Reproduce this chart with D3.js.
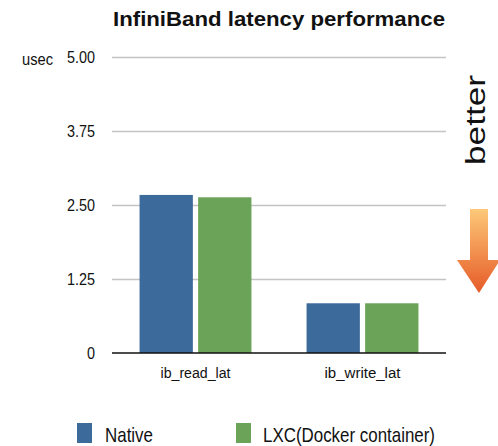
<!DOCTYPE html>
<html><head><meta charset="utf-8">
<script src="https://cdn.jsdelivr.net/npm/d3@7"></script>
<style>
body{margin:0;background:#fff;}
text{font-family:"Liberation Sans",Arial,Helvetica,sans-serif;fill:#111;}
</style></head>
<body><svg id="c" width="498" height="446"></svg>
<script>
const categories = ["ib_read_lat","ib_write_lat"];
const seriesNames = ["Native","LXC(Docker container)"];
const nativeValues = [2.67, 0.84];
const lxcValues = [2.63, 0.84];
const yTicks = [0, 1.25, 2.5, 3.75, 5];
const colors = ["#3b6a9b", "#6ba359"];

const svg = d3.select("#c");
const L = 112, R = 446, T = 57, B = 353;

const x = d3.scaleBand().domain(categories).range([L, R]).paddingInner(0.33).paddingOuter(0.165);
const xs = d3.scaleBand().domain(seriesNames).range([0, x.bandwidth()]).paddingInner(0.09);
const y = d3.scaleLinear().domain([0, 5]).range([B, T]);

// gridlines
const grid = svg.append("g").attr("transform", `translate(${L},0)`)
  .call(d3.axisLeft(y).tickValues(yTicks.slice(1)).tickSize(-(R - L)).tickFormat(""));
grid.select(".domain").remove();
grid.selectAll("line").attr("stroke", "#c4c4c4").attr("stroke-width", 1.5);

// y tick labels
const yAx = svg.append("g").attr("transform", `translate(${L},0)`)
  .call(d3.axisLeft(y).tickValues(yTicks).tickSize(0).tickPadding(17)
    .tickFormat(d => d === 0 ? "0" : d.toFixed(2)));
yAx.select(".domain").remove();
yAx.selectAll("text").attr("font-size", 16).attr("font-family", null).attr("dy", "0.36em")
  .attr("textLength", d => d === 0 ? 8 : 28).attr("lengthAdjust", "spacingAndGlyphs");

svg.append("text").attr("x", 22).attr("y", 65).attr("font-size", 17)
  .attr("textLength", 31).attr("lengthAdjust", "spacingAndGlyphs").text("usec");

// bars
const rows = categories.map((c, i) => ({cat: c, vals: [nativeValues[i], lxcValues[i]]}));
const g = svg.append("g").selectAll("g").data(rows).join("g")
  .attr("transform", d => `translate(${x(d.cat)},0)`);
g.selectAll("rect").data(d => d.vals.map((v, j) => ({s: seriesNames[j], v, j})))
  .join("rect")
  .attr("x", d => xs(d.s)).attr("width", xs.bandwidth())
  .attr("y", d => y(d.v)).attr("height", d => y(0) - y(d.v))
  .attr("fill", d => colors[d.j]);

// baseline
svg.append("line").attr("x1", L).attr("x2", R).attr("y1", y(0)).attr("y2", y(0))
  .attr("stroke", "#111").attr("stroke-width", 1.5);

// x labels
const xAx = svg.append("g").attr("transform", `translate(0,${B})`)
  .call(d3.axisBottom(x).tickSize(0).tickPadding(15));
xAx.select(".domain").remove();
xAx.selectAll("text").attr("font-size", 14).attr("font-family", null)
  .attr("textLength", (d) => d === "ib_read_lat" ? 70 : 76).attr("lengthAdjust", "spacingAndGlyphs");

// title
svg.append("text").attr("x", 113).attr("y", 26).attr("font-size", 21).attr("font-weight", "bold")
  .attr("textLength", 332).attr("lengthAdjust", "spacingAndGlyphs").text("InfiniBand latency performance");

// legend
const legX = [77, 236], legT = [105, 263], legW = [48, 172];
seriesNames.forEach((s, i) => {
  svg.append("rect").attr("x", legX[i]).attr("y", 423).attr("width", 15).attr("height", 20).attr("fill", colors[i]);
  svg.append("text").attr("x", legT[i]).attr("y", 442).attr("font-size", 21)
    .attr("textLength", legW[i]).attr("lengthAdjust", "spacingAndGlyphs").text(s);
});

// "better" annotation
svg.append("text").attr("transform", "translate(485,120) rotate(-90)").attr("text-anchor", "middle")
  .attr("font-size", 27).attr("textLength", 90).attr("lengthAdjust", "spacingAndGlyphs").text("better");

const defs = svg.append("defs");
const grad = defs.append("linearGradient").attr("id", "ag").attr("x1", 0).attr("y1", 0).attr("x2", 0).attr("y2", 1);
grad.append("stop").attr("offset", "0%").attr("stop-color", "#fdc978");
grad.append("stop").attr("offset", "100%").attr("stop-color", "#e65a28");
svg.append("path").attr("d", "M470,209 L488,209 L488,260 L500,260 L479,293 L457,260 L470,260 Z")
  .attr("fill", "url(#ag)");
</script></body></html>
